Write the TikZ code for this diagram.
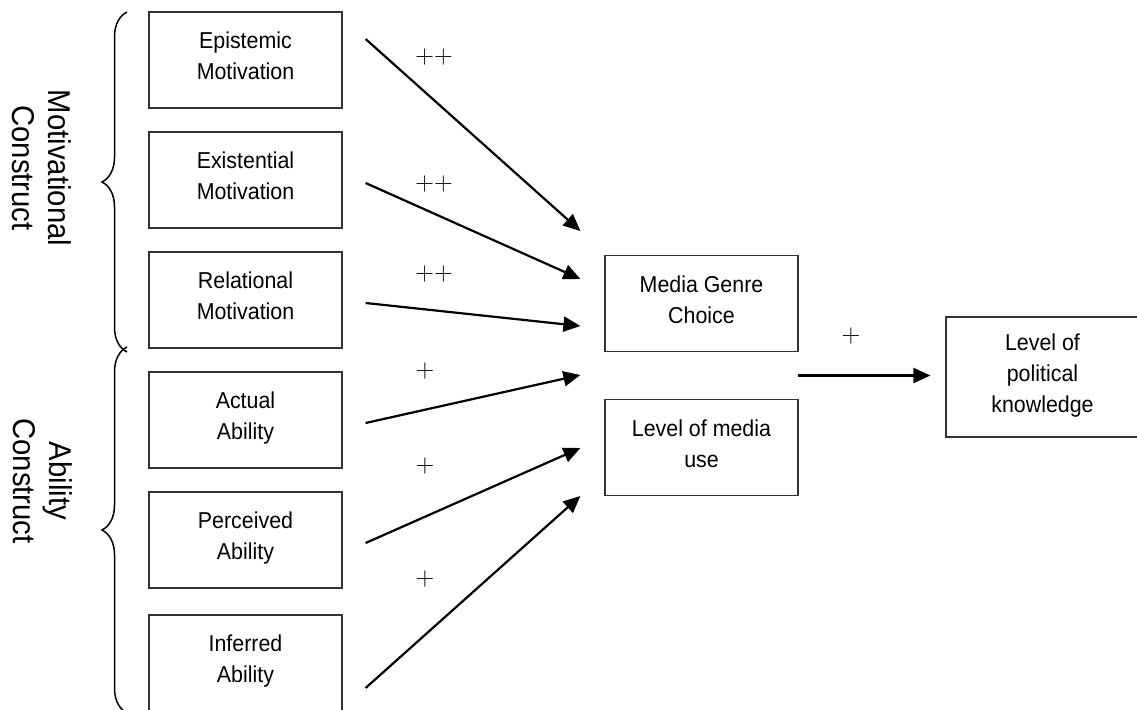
\documentclass[tikz,border=0pt]{standalone}
\usepackage{fontspec}
\newfontfamily\arial[FakeStretch=0.93]{Liberation Sans}
\usetikzlibrary{arrows.meta,decorations.pathreplacing,calc}
\newcommand\tls{\rule{0pt}{16pt}}
\newcommand\bls{\rule[-8.2pt]{0pt}{8.2pt}}
\begin{document}
\begin{tikzpicture}[x=1pt,y=-1pt,
  box/.style={draw=black!80, line width=1.2pt, minimum width=193pt, minimum height=96pt,
    inner sep=0pt, align=center, font=\arial\fontsize{23}{31}\selectfont},
  arr/.style={line width=2.2pt, -{Triangle[length=17pt,width=15pt]}},
  sgn/.style={font=\fontsize{26}{26}\selectfont, inner sep=0pt},
  grp/.style={font=\arial\fontsize{31.5}{36}\selectfont, align=center, rotate=-90, inner sep=0pt},
  brc/.style={decorate, decoration={brace, amplitude=25pt}, line width=1.5pt}]
\useasboundingbox (0,0) rectangle (1137,709);

% left boxes
\node[box] (b1) at (245.5,60)  {\tls Epistemic\\Motivation\bls};
\node[box] (b2) at (245.5,180) {\tls Existential\\Motivation\bls};
\node[box] (b3) at (245.5,300) {\tls Relational\\Motivation\bls};
\node[box] (b4) at (245.5,420) {\tls Actual\\Ability\bls};
\node[box] (b5) at (245.5,540) {\tls Perceived\\Ability\bls};
\node[box] (b6) at (245.5,663) {\tls Inferred\\Ability\bls};

% middle and right boxes
\node[box] (mg) at (701.5,303.5) {\tls Media Genre\\Choice\bls};
\node[box] (mu) at (701.5,447.5) {\tls Level of media\\use\bls};
\node[box, minimum height=120pt] (pk) at (1042.5,377) {\tls Level of\\political\\knowledge\bls};

% braces and group labels
\draw[brc] (127,352) -- (127,12);
\draw[brc] (127,713) -- (127,347);
\node[grp] (g1) at (42,168) {Motivational\\Construct};
\node[grp] (g2) at (42.5,481) {Ability\\Construct};

% arrow end points
\coordinate (s1) at ($(b1.east)+(23,-21)$);
\coordinate (s2) at ($(b2.east)+(23,3)$);
\coordinate (s3) at ($(b3.east)+(23,3)$);
\coordinate (s4) at ($(b4.east)+(23,3)$);
\coordinate (s5) at ($(b5.east)+(23,3)$);
\coordinate (s6) at ($(b6.east)+(23,25)$);
\coordinate (e1) at ($(mg.west)+(-24,-72.5)$);
\coordinate (e2) at ($(mg.west)+(-24,-24.5)$);
\coordinate (e3) at ($(mg.west)+(-24,22.5)$);
\coordinate (e4) at ($(mg.west)+(-24,71.5)$);
\coordinate (e5) at ($(mu.west)+(-24,0.5)$);
\coordinate (e6) at ($(mu.west)+(-24,48.5)$);
\coordinate (s7) at ($(mg.east)!0.5!(mu.east)+(-1,0)$);
\coordinate (e7) at ($(pk.west)+(-15,-1.5)$);

\draw[arr] (s1) -- (e1);
\draw[arr] (s2) -- (e2);
\draw[arr] (s3) -- (e3);
\draw[arr] (s4) -- (e4);
\draw[arr] (s5) -- (e5);
\draw[arr] (s6) -- (e6);
\draw[arr] (s7) -- (e7);

% signs
\node[sgn] (p1) at (434,57.5) {++};
\node[sgn] (p2) at (434,184) {++};
\node[sgn] (p3) at (434,274) {++};
\node[sgn] (p4) at (425,371) {+};
\node[sgn] (p5) at (425,466) {+};
\node[sgn] (p6) at (425,579) {+};
\node[sgn] (p7) at (851,336) {+};
\end{tikzpicture}
\end{document}
